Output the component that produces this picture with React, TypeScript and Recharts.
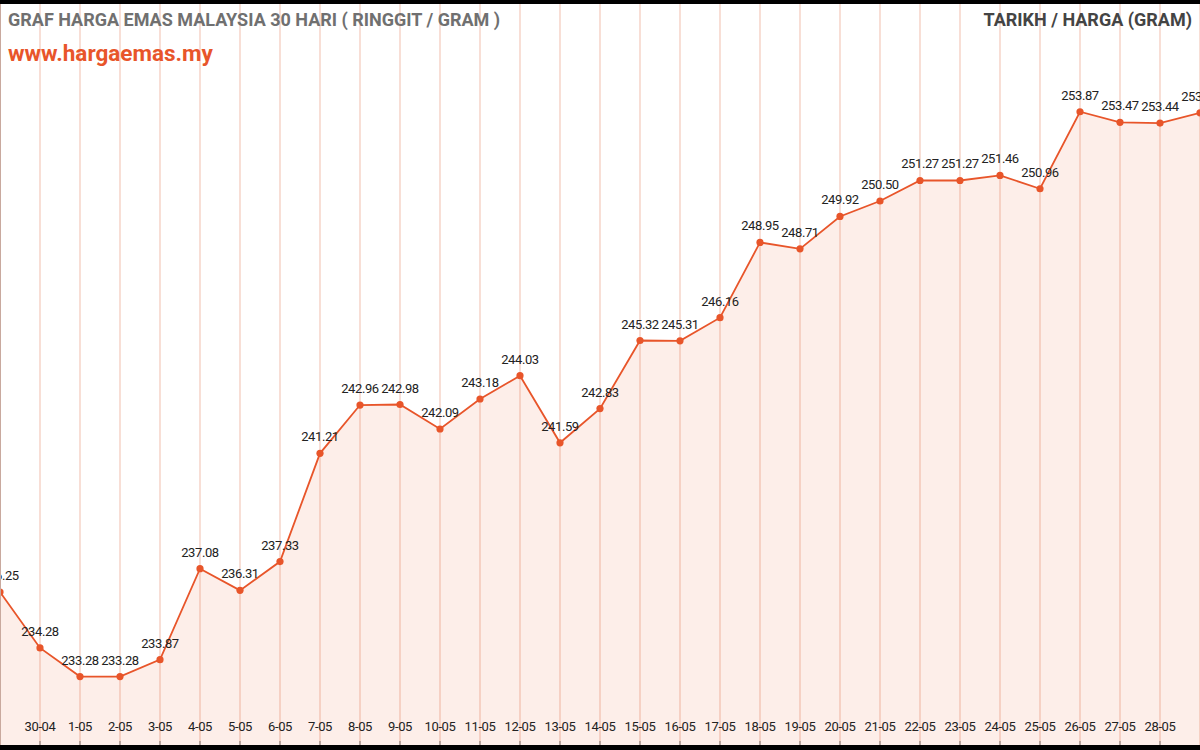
import React from 'react';
import { AreaChart, Area, XAxis, YAxis, CartesianGrid, LabelList } from 'recharts';

const dates = [
  '29-04', '30-04', '1-05', '2-05', '3-05', '4-05', '5-05', '6-05', '7-05', '8-05',
  '9-05', '10-05', '11-05', '12-05', '13-05', '14-05', '15-05', '16-05', '17-05', '18-05',
  '19-05', '20-05', '21-05', '22-05', '23-05', '24-05', '25-05', '26-05', '27-05', '28-05', '29-05',
];

const prices = [
  236.25, 234.28, 233.28, 233.28, 233.87, 237.08, 236.31, 237.33, 241.21, 242.96,
  242.98, 242.09, 243.18, 244.03, 241.59, 242.83, 245.32, 245.31, 246.16, 248.95,
  248.71, 249.92, 250.5, 251.27, 251.27, 251.46, 250.96, 253.87, 253.47, 253.44, 253.83,
];

// the edge dates sit on the chart border, so their labels are left out
const shownDates = dates.slice(1, -1);

const priceRange = [230.9, 258];

const data = dates.map((d, i) => ({ date: d, price: prices[i] }));

const ORANGE = '#e8552a';
const FONT = 'Roboto, sans-serif';

const renderDot = (props: any) => {
  const { cx, cy, index } = props;
  if (cx == null || cy == null) return <g key={`d-${index}`} />;
  return <circle key={`d-${index}`} cx={cx} cy={cy} r={3.6} fill={ORANGE} />;
};

const App: React.FC = () => {
  return (
    <div style={{ position: 'fixed', left: 0, top: 0, width: 1200, height: 750, background: '#000', fontFamily: FONT }}>
      <div style={{ position: 'absolute', left: 0, top: 4, width: 1200, height: 741, background: '#fff' }}>
        <AreaChart width={1200} height={741} data={data} margin={{ top: 0, right: 0, bottom: 0, left: 0 }}>
          <CartesianGrid horizontal={false} stroke="#f3c9bb" strokeWidth={1.2} verticalPoints={undefined} />
          <XAxis
            dataKey="date"
            height={1}
            mirror
            axisLine={false}
            tickSize={4}
            tickMargin={10}
            tickLine={{ stroke: '#777' }}
            interval={0}
            ticks={shownDates}
            tick={{ fontSize: 13, fill: '#222', fontFamily: FONT, letterSpacing: -0.4 }}
          />
          <YAxis hide scale="log" domain={priceRange} allowDataOverflow />
          <Area
            type="linear"
            dataKey="price"
            stroke={ORANGE}
            strokeWidth={1.8}
            fill={ORANGE}
            fillOpacity={0.1}
            dot={renderDot}
            activeDot={false}
            isAnimationActive={false}
          >
            <LabelList
              dataKey="price"
              position="top"
              offset={12}
              formatter={(v: number) => v.toFixed(2)}
              style={{ fontSize: 13, fill: '#222', fontFamily: FONT, letterSpacing: -0.4 }}
            />
          </Area>
        </AreaChart>
        <div style={{ position: 'absolute', left: 0, top: 0, width: 1, height: 741, background: '#c9a99e' }} />
        <div style={{ position: 'absolute', left: 8, top: 5, fontSize: 18, fontWeight: 700, color: '#707070' }}>
          GRAF HARGA EMAS MALAYSIA 30 HARI ( RINGGIT / GRAM )
        </div>
        <div style={{ position: 'absolute', left: 8, top: 36, fontSize: 22.5, fontWeight: 700, color: ORANGE }}>
          www.hargaemas.my
        </div>
        <div style={{ position: 'absolute', right: 8, top: 5, fontSize: 18, fontWeight: 700, color: '#444' }}>
          TARIKH / HARGA (GRAM)
        </div>
      </div>
    </div>
  );
};

export default App;
